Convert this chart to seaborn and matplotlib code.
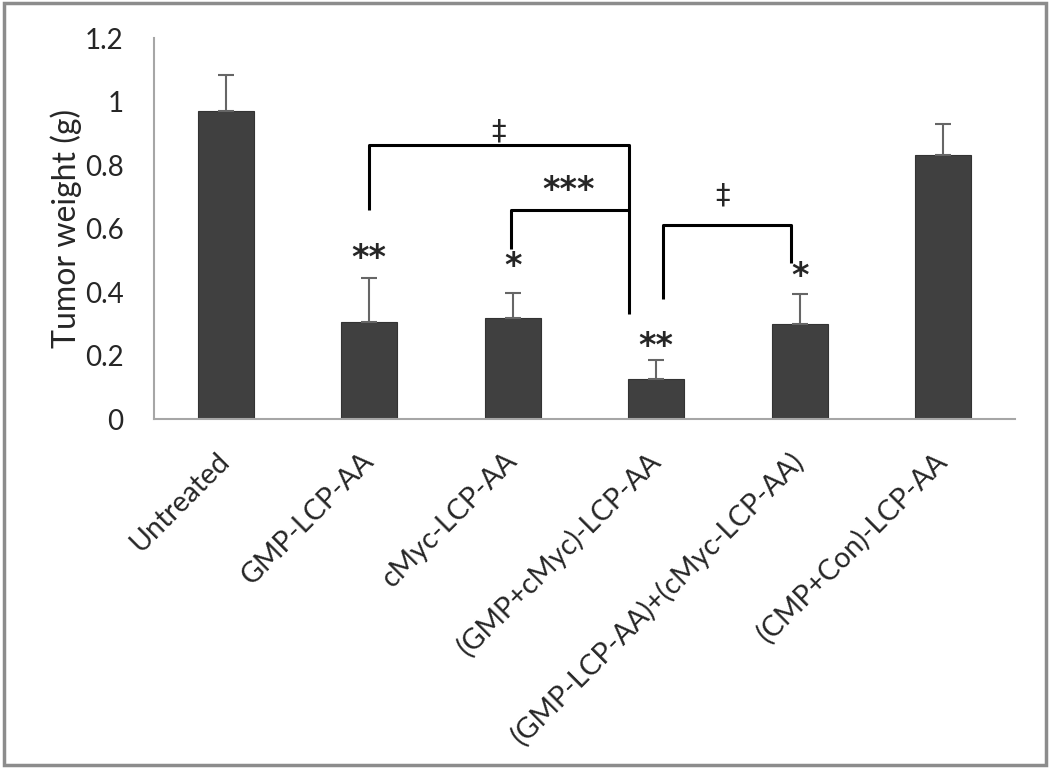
import pandas as pd
import matplotlib
matplotlib.use("Agg")
import matplotlib.pyplot as plt
import seaborn as sns
from matplotlib.patches import Rectangle

# data
groups = ['Untreated', 'GMP-LCP-AA', 'cMyc-LCP-AA', '(GMP+cMyc)-LCP-AA',
          '(GMP-LCP-AA)+(cMyc-LCP-AA)', '(CMP+Con)-LCP-AA']
weight = [0.97, 0.305, 0.318, 0.125, 0.298, 0.83]
err_up = [0.113, 0.14, 0.08, 0.062, 0.095, 0.10]
stars = ['', '**', '*', '**', '*', '']
star_y = [0, 0.505, 0.48, 0.228, 0.45, 0]

df = pd.DataFrame({'group': groups, 'weight': weight})

sns.set_style('white')
plt.rcParams['font.family'] = ['Lato', 'DejaVu Sans']

fig = plt.figure(figsize=(10.5, 7.68), dpi=100)
ax = fig.add_axes([0.1467, 0.4544, 0.82, 0.4961])

sns.barplot(data=df, x='group', y='weight', color='#404040', saturation=1,
            width=0.39, errorbar=None, edgecolor='#333333', linewidth=0.8, ax=ax)
ax.errorbar(range(len(groups)), weight, yerr=[[0] * len(groups), err_up],
            fmt='none', ecolor='#666666', elinewidth=1.5, capsize=6, capthick=1.5)

ax.set_xlim(-0.5, 5.5)
ax.set_ylim(0, 1.2)
ax.set_yticks([0, 0.2, 0.4, 0.6, 0.8, 1.0, 1.2])
ax.set_yticklabels(['0', '0.2', '0.4', '0.6', '0.8', '1', '1.2'], fontsize=20)
ax.set_ylabel('Tumor weight (g)', fontsize=23, labelpad=2)
ax.set_xlabel('')

# category labels, tick marks between categories
ax.set_xticks(range(len(groups)))
ax.set_xticklabels(groups, rotation=45, ha='right', va='center',
                   rotation_mode='anchor', fontsize=20.5)
ax.set_xticks([i - 0.5 for i in range(len(groups) + 1)], minor=True)
ax.tick_params(axis='x', which='major', length=0, pad=27)
ax.tick_params(axis='x', which='minor', length=8, width=1.2, color='#a6a6a6', direction='out')
ax.tick_params(axis='y', length=8, width=1.2, color='#a6a6a6', direction='out', pad=14)

for s in ['top', 'right']:
    ax.spines[s].set_visible(False)
for s in ['left', 'bottom']:
    ax.spines[s].set_color('#a6a6a6')
    ax.spines[s].set_linewidth(1.5)

# significance stars above bars
for i, (s, y) in enumerate(zip(stars, star_y)):
    if s:
        ax.text(i, y, s, ha='center', va='center', fontsize=24,
                fontweight='bold', family='DejaVu Sans')

# brackets
lk = dict(color='black', lw=2.2, solid_capstyle='butt', clip_on=False)
ax.plot([1.0, 1.0, 2.81, 2.81], [0.658, 0.863, 0.863, 0.331], **lk)
ax.plot([1.99, 1.99, 2.81], [0.535, 0.658, 0.658], **lk)
ax.plot([3.05, 3.05, 3.94, 3.94], [0.378, 0.611, 0.611, 0.49], **lk)
ax.text(1.9, 0.905, '‡', ha='center', va='center', fontsize=21, family='DejaVu Sans')
ax.text(2.39, 0.72, '***', ha='center', va='center', fontsize=24,
        fontweight='bold', family='DejaVu Sans')
ax.text(3.46, 0.705, '‡', ha='center', va='center', fontsize=21, family='DejaVu Sans')

# outer frame
fig.patches.append(Rectangle((0.004, 0.004), 0.992, 0.992, transform=fig.transFigure,
                             fill=False, edgecolor='#8c8c8c', lw=2.5))

fig.savefig('out.png', dpi=100)
